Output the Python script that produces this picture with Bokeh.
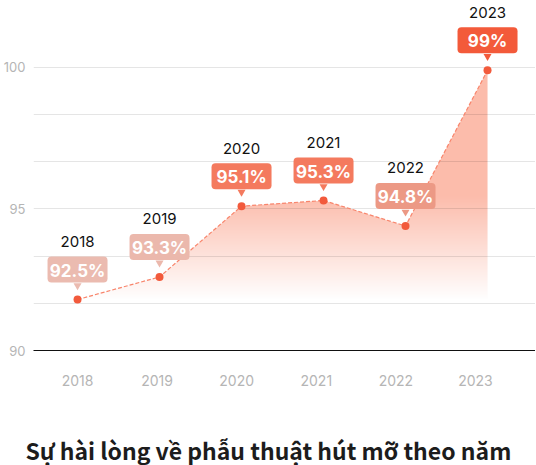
import numpy as np
from bokeh.plotting import figure
from bokeh.models import Range1d, LinearAxis, FixedTicker, Title
from bokeh.core.properties import value
from bokeh.embed import file_html
from bokeh.resources import INLINE

# du lieu doc tu hinh
years = [2018, 2019, 2020, 2021, 2022, 2023]
satisfaction = [91.8, 92.6, 95.1, 95.3, 94.4, 99.9]
badge_text = ["92.5%", "93.3%", "95.1%", "95.3%", "94.8%", "99%"]
badge_colors = ["#ebbbb0", "#ebb8ac", "#f47a5e", "#f47a5e", "#ec9985", "#f35a3a"]
y_ticks = [90, 95, 100]
title_text = "Sự hài lòng về phẫu thuật hút mỡ theo năm"

FRAME_W = 502
FRAME_H = 350
Y_BOTTOM = 90
Y_TOP = 102.367
ppu = FRAME_H / (Y_TOP - Y_BOTTOM)


def px(n):
    # pixel -> don vi du lieu truc y
    return n / ppu


p = figure(
    frame_width=FRAME_W,
    frame_height=FRAME_H,
    min_border_left=26,
    min_border_right=0,
    min_border_top=0,
    min_border_bottom=115,
    x_range=Range1d(2017.463, 2023.585),
    y_range=Range1d(Y_BOTTOM, Y_TOP),
    x_axis_location=None,
    toolbar_location=None,
    tools="",
    output_backend="svg",
)
p.outline_line_color = None
p.xgrid.grid_line_color = None

# truc x rieng cho nhan nam (khoang cach hoi khac cac diem)
p.extra_x_ranges = {"lab": Range1d(2017.447, 2023.754)}
xa = LinearAxis(x_range_name="lab", ticker=FixedTicker(ticks=years))
xa.axis_line_color = "#111111"
xa.axis_line_width = 1.2
xa.major_tick_line_color = None
xa.minor_tick_line_color = None
xa.major_label_standoff = 18
xa.major_label_text_color = "#b5b5b5"
xa.major_label_text_font = "Inter"
xa.major_label_text_font_size = "14px"
p.add_layout(xa, "below")

t = Title(text=title_text, align="left", text_font="Noto Sans CJK SC", text_font_size="23px",
          text_font_style="bold", text_color="#1c1c1c", standoff=84, offset=-8)
p.add_layout(t, "below")

p.yaxis.ticker = FixedTicker(ticks=y_ticks)
p.yaxis.axis_line_color = None
p.yaxis.major_tick_line_color = None
p.yaxis.minor_tick_line_color = None
p.yaxis.major_label_standoff = 2
p.yaxis.major_label_text_color = "#b5b5b5"
p.yaxis.major_label_text_font = "Inter"
p.yaxis.major_label_text_font_size = "13px"

p.ygrid.ticker = FixedTicker(ticks=[Y_BOTTOM + 5 / 3 * k for k in range(1, 7)])
p.ygrid.grid_line_color = "#000000"
p.ygrid.grid_line_alpha = 0.1

# nen gradient duoi duong
g_top = max(satisfaction) + 0.5
n = 400
vv = np.linspace(Y_BOTTOM, g_top, n)
tt = np.clip((vv - min(satisfaction)) / (95.5 - min(satisfaction)), 0, 1)
base = np.array([252, 188, 171])
img = np.zeros((n, 1, 4), dtype=np.uint8)
img[:, 0, :3] = (255 - (255 - base) * tt[:, None]).astype(np.uint8)
img[:, 0, 3] = 255
p.image_rgba(image=[img.view(np.uint32).reshape(n, 1)], x=years[0], y=Y_BOTTOM,
             dw=years[-1] - years[0], dh=g_top - Y_BOTTOM, level="image")
mx = [years[0] - 0.1] + years + [years[-1] + 0.1, years[-1] + 0.1, years[0] - 0.1]
my = [satisfaction[0]] + satisfaction + [satisfaction[-1], Y_TOP + 1, Y_TOP + 1]
p.patch(mx, my, fill_color="white", line_color=None, level="image")

p.line(years, satisfaction, line_color="#f8856c", line_width=1.2, line_dash="4 2")
p.scatter(years, satisfaction, size=8, fill_color="#f25a3c", line_color=None)

# nhan dang bong bong
p.rect(x=years, y=[v + px(30) for v in satisfaction], width=60, height=26,
       width_units="screen", height_units="screen", fill_color=badge_colors,
       line_color=None, border_radius=4)
p.scatter(x=years, y=[v + px(14) for v in satisfaction], marker="inverted_triangle",
          size=8, fill_color=badge_colors, line_color=None)
p.text(x=years, y=satisfaction, text=badge_text, y_offset=-29, text_align="center",
       text_baseline="middle", text_color="white", text_font=value("Inter"),
       text_font_size="17px", text_font_style="bold")
p.text(x=years, y=satisfaction, text=[str(y) for y in years], y_offset=-58,
       text_align="center", text_baseline="middle", text_color="#111111",
       text_font=value("Inter"), text_font_size="15px")

open("out.html", "w").write(file_html(p, INLINE))
